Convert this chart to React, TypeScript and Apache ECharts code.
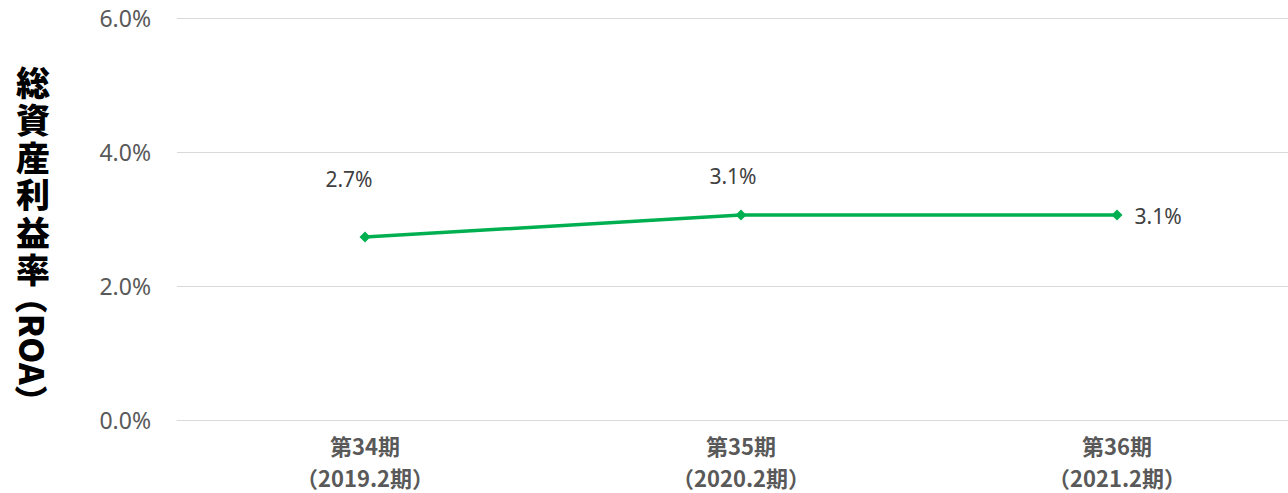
import React, { useEffect, useRef } from "react";
import * as echarts from "echarts";

const periods = ["第34期", "第35期", "第36期"];
const fiscalYears = ["（2019.2期）", "（2020.2期）", "（2021.2期）"];
const categories = periods.map((p, i) => p + "\n" + fiscalYears[i]);
const roaValues = [2.73, 3.06, 3.06];
const yTicks = { min: 0, max: 6, interval: 2 };
const titleUprightChars = ["総", "資", "産", "利", "益", "率"];
const titleRotated = "（ROA）";

export default function App() {
  const ref = useRef<HTMLDivElement>(null);
  useEffect(() => {
    if (!ref.current) return;
    const chart = echarts.init(ref.current, undefined, { renderer: "svg" });
    const labelOffsets: any[] = [
      { position: "top", offset: [-16, -37] },
      { position: "top", offset: [-8, -18] },
      { position: "right", offset: [7, 1] },
    ];
    const xLabelText = {
      color: "#595959",
      fontSize: 22,
      fontWeight: "bold",
      fontFamily: "Noto Sans CJK JP",
    };
    const titleStyle = {
      fontSize: 34,
      fontWeight: 900,
      fontFamily: "Noto Sans CJK JP",
      fill: "#000000",
    };
    const uprightTexts = titleUprightChars.map((ch, i) => ({
      type: "text",
      x: 33,
      y: 81 + i * 37.5,
      style: {
        ...titleStyle,
        text: ch,
        lineHeight: 34,
        textAlign: "center",
        textVerticalAlign: "middle",
      },
    }));
    chart.setOption({
      animation: false,
      backgroundColor: "#ffffff",
      grid: { left: 177, right: -17, top: 18, bottom: 73, outerBoundsMode: "none", containLabel: false },
      xAxis: {
        type: "category",
        data: categories,
        boundaryGap: true,
        axisLine: { show: true, lineStyle: { color: "#d9d9d9", width: 1 } },
        axisTick: { show: false },
        axisLabel: {
          ...xLabelText,
          margin: 5,
          interval: 0,
          formatter: (v: string) => {
            const [a, b] = v.split("\n");
            return "{a|" + a + "}\n{b|" + b + "}";
          },
          rich: {
            a: { ...xLabelText, lineHeight: 40 },
            b: { ...xLabelText, lineHeight: 24 },
          },
        },
      },
      yAxis: {
        type: "value",
        min: yTicks.min,
        max: yTicks.max,
        interval: yTicks.interval,
        axisLine: { show: false },
        axisTick: { show: false },
        splitLine: { lineStyle: { color: "#d9d9d9", width: 1 } },
        axisLabel: {
          color: "#595959",
          fontSize: 23,
          fontFamily: "Noto Sans",
          margin: 26,
          formatter: (v: number) => v.toFixed(1) + "%",
        },
      },
      series: [
        {
          type: "line",
          data: roaValues.map((v, i) => ({
            value: v,
            label: {
              show: true,
              ...labelOffsets[i],
            },
          })),
          symbol: "diamond",
          symbolSize: 11,
          lineStyle: { color: "#00B050", width: 3.5 },
          itemStyle: { color: "#00B050" },
          label: {
            show: true,
            color: "#404040",
            fontSize: 21,
            fontFamily: "Noto Sans",
            formatter: (p: any) => p.value.toFixed(1) + "%",
          },
        },
      ],
      graphic: [
        ...uprightTexts,
        {
          type: "text",
          x: 33,
          y: 281,
          rotation: -Math.PI / 2,
          style: {
            ...titleStyle,
            text: titleRotated,
            fontSize: 33,
            textAlign: "left",
            textVerticalAlign: "middle",
          },
        },
      ],
    });
    return () => chart.dispose();
  }, []);
  return (
    <div
      ref={ref}
      style={{ position: "fixed", left: 0, top: 0, width: 1288, height: 493 }}
    />
  );
}
